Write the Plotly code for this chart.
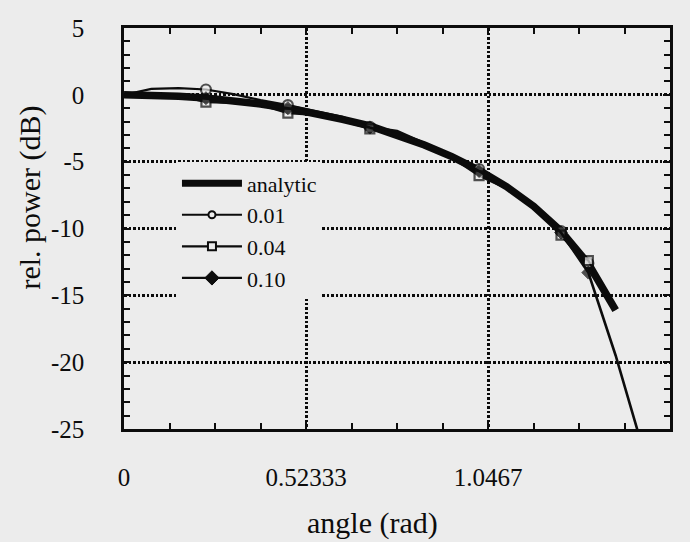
import plotly.graph_objects as go

# angle grid shared by all curves (rad)
angle = [0.0, 0.0785, 0.1571, 0.2356, 0.3142, 0.3927, 0.4712, 0.5498, 0.6283,
         0.7069, 0.7854, 0.8639, 0.9425, 1.0210, 1.0996, 1.1781, 1.2566,
         1.3352, 1.4137]
angle_ext = angle + [1.4923]

# relative power (dB)
analytic = [0.0, -0.03, -0.11, -0.24, -0.44, -0.69, -1.00, -1.39, -1.84,
            -2.32, -3.01, -3.75, -4.62, -5.64, -6.86, -8.34, -10.20,
            -12.64, -16.11]
p001 = [0.0, 0.45, 0.5, 0.4, 0.05, -0.4, -0.77, -1.2, -1.65, -2.4, -2.7,
        -3.6, -4.5, -5.55, -6.8, -8.3, -10.2, -12.6, -16.1]
p004 = [0.0, 0.05, -0.05, -0.55, -0.6, -0.75, -1.37, -1.5, -1.95, -2.55,
        -3.1, -3.8, -4.7, -6.05, -7.0, -8.4, -10.5, -12.4, -16.0]
p010 = [0.0, 0.0, -0.1, -0.25, -0.45, -0.7, -1.0, -1.4, -1.85, -2.45, -3.0,
        -3.75, -4.6, -5.7, -6.9, -8.35, -10.3, -13.3, -19.5, -26.5]

# samples that carry a symbol
marked = [3, 6, 9, 13, 16, 17]

x_ticks = [0, 0.52333, 1.0467, 1.57]
x_tick_text = ["0", "0.52333", "1.0467", "1.57"]
y_ticks = [5, 0, -5, -10, -15, -20, -25]
y_tick_text = ["5", "0", "-5", "-10", "-15", "-20", "-25"]

BG = "#ececec"
INK = "#0c0c0c"
SERIF = "Liberation Serif, Times New Roman, serif"


def sizes(n, size):
    return [size if i in marked else 0 for i in range(n)]


fig = go.Figure()

# thick analytic curve underneath
fig.add_trace(go.Scatter(x=angle, y=analytic, mode="lines",
                         line=dict(color=INK, width=7.5),
                         showlegend=False))

fig.add_trace(go.Scatter(x=angle, y=p001, mode="lines+markers",
                         line=dict(color=INK, width=2.2),
                         marker=dict(symbol="circle", size=sizes(len(angle), 10),
                                     color=BG, line=dict(color=INK, width=2.2)),
                         showlegend=False))
fig.add_trace(go.Scatter(x=angle, y=p004, mode="lines+markers",
                         line=dict(color=INK, width=2.2),
                         marker=dict(symbol="square", size=sizes(len(angle), 9),
                                     color=BG, line=dict(color=INK, width=2.2)),
                         showlegend=False))
fig.add_trace(go.Scatter(x=angle_ext, y=p010, mode="lines+markers",
                         line=dict(color=INK, width=2.6),
                         marker=dict(symbol="diamond",
                                     size=sizes(len(angle_ext), 10), color=INK,
                                     line=dict(color=INK, width=1)),
                         showlegend=False))

# legend entries
fig.add_trace(go.Scatter(x=[None], y=[None], mode="lines", name="analytic",
                         line=dict(color=INK, width=7)))
fig.add_trace(go.Scatter(x=[None], y=[None], mode="lines+markers", name="0.01",
                         line=dict(color=INK, width=2.2),
                         marker=dict(symbol="circle", size=7, color=BG,
                                     line=dict(color=INK, width=2))))
fig.add_trace(go.Scatter(x=[None], y=[None], mode="lines+markers", name="0.04",
                         line=dict(color=INK, width=2.2),
                         marker=dict(symbol="square", size=8, color=BG,
                                     line=dict(color=INK, width=2))))
fig.add_trace(go.Scatter(x=[None], y=[None], mode="lines+markers", name="0.10",
                         line=dict(color=INK, width=2.2),
                         marker=dict(symbol="diamond", size=11, color=INK,
                                     line=dict(color=INK, width=1))))

axis_common = dict(
    showline=True, linecolor=INK, linewidth=2.5, mirror="ticks",
    ticks="inside", ticklen=7, tickwidth=2, tickcolor=INK,
    showgrid=True, gridcolor=INK, gridwidth=2.5, griddash="2.5px,2px",
    zeroline=False,
    tickfont=dict(family=SERIF, size=25, color=INK),
)

fig.update_xaxes(range=[0, 1.57], tickmode="array", tickvals=x_ticks,
                 ticktext=x_tick_text, ticklabelstandoff=24,
                 minor=dict(dtick=0.5233333 / 4, tick0=0, ticks="inside",
                            ticklen=6, tickwidth=2, tickcolor=INK,
                            showgrid=False),
                 **axis_common)
fig.update_yaxes(range=[-25, 5], tickmode="array", tickvals=y_ticks,
                 ticktext=y_tick_text, ticklabelstandoff=32,
                 minor=dict(dtick=1, tick0=0, ticks="inside", ticklen=6,
                            tickwidth=2, tickcolor=INK, showgrid=False),
                 **axis_common)

fig.update_layout(
    width=690, height=542,
    margin=dict(l=124, r=20, t=28, b=113),
    paper_bgcolor=BG, plot_bgcolor=BG,
    showlegend=True,
    legend=dict(x=0.097, y=0.665, xanchor="left", yanchor="top",
                bgcolor=BG, borderwidth=0, itemwidth=60,
                tracegroupgap=0, entrywidth=165, entrywidthmode="pixels",
                font=dict(family=SERIF, size=22, color=INK)),
    annotations=[
        dict(text="angle (rad)", xref="paper", yref="paper",
             x=0.456, y=-0.234, xanchor="center", yanchor="middle",
             showarrow=False, font=dict(family=SERIF, size=30, color=INK)),
        dict(text="rel. power (dB)", xref="paper", yref="paper",
             x=-0.173, y=0.576, xanchor="center", yanchor="middle",
             textangle=-90, showarrow=False,
             font=dict(family=SERIF, size=30, color=INK)),
    ],
)

fig.write_html("out.html")
